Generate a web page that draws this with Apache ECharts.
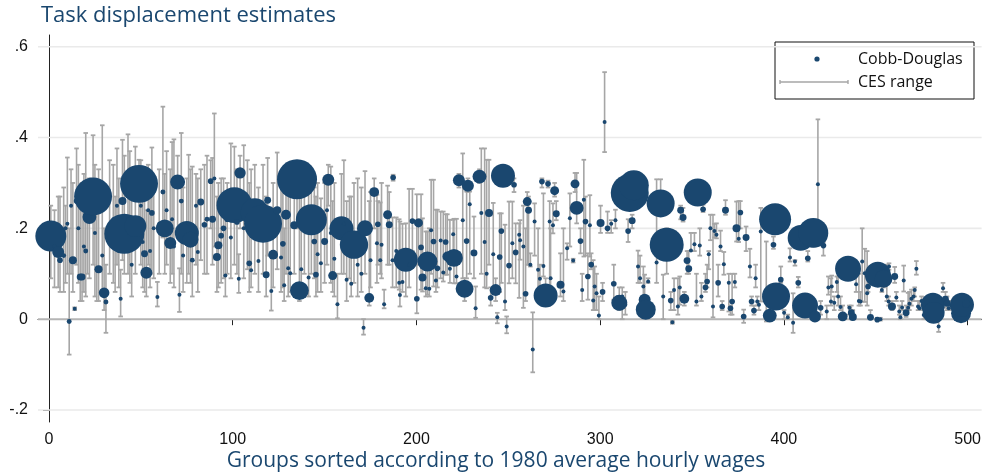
<!DOCTYPE html>
<html>
<head>
<meta charset="utf-8">
<script src="https://cdn.jsdelivr.net/npm/echarts@6/dist/echarts.min.js"></script>
<style>
  html, body { margin: 0; background: #fff; }
  #chart { width: 984px; height: 474px; }
</style>
</head>
<body>
<div id="chart"></div>
<script>
// group rank (sorted by 1980 average hourly wage)
const groupRank = [
  1, 3, 5, 6, 8, 9, 10, 11, 12, 13,
  14, 15, 16, 17, 18, 19, 20, 21, 22, 24,
  25, 26, 27, 29, 30, 31, 33, 35, 36, 37,
  38, 39, 40, 41, 43, 44, 45, 47, 49, 50,
  51, 52, 53, 54, 55, 56, 57, 59, 60, 62,
  63, 64, 66, 67, 68, 70, 71, 72, 73, 75,
  76, 77, 78, 80, 81, 82.6, 84.6, 86, 88, 89,
  90, 91.4, 92.2, 93.7, 95, 96, 97, 99, 100.9, 102.3,
  103.3, 104, 106, 108, 109, 110, 112, 114, 116.5, 118.2,
  119, 121, 122, 124.2, 126.3, 127.3, 128, 129, 130.2, 131.3,
  133.5, 135, 136.3, 137.3, 139, 141.3, 142.8, 144.4, 145.3, 146.2,
  148, 150, 151.3, 152, 153.4, 154.4, 155.3, 157, 159.2, 160.5,
  162, 163.5, 164.5, 166, 168, 170, 171.2, 172, 174.3, 175,
  177, 178.5, 179, 180.3, 181, 182.4, 184.3, 185.2, 187.3, 187,
  189, 190.6, 191, 192.4, 194.2, 196, 197.8, 200.2, 201.1, 202.5,
  203.3, 205.1, 206, 207, 208, 209.3, 210.6, 211.4, 213.2, 214.6,
  215.9, 216.8, 218.2, 220, 220.4, 221.8, 223.1, 225.2, 226.2, 227.3,
  228, 229, 231.3, 232.2, 234.3, 235.3, 237.1, 238.2, 239.5, 240.4,
  241.8, 243.1, 244, 245.3, 246.2, 247.1, 248.2, 249.1, 250.4, 252.2,
  253.1, 254, 255.9, 256.4, 258.2, 259.4, 260.3, 261, 262, 263.3,
  264.3, 266.2, 267.2, 268.3, 269.1, 270.3, 271.6, 272.5, 273, 274.3,
  275.2, 276.1, 278.4, 280, 282, 283.5, 285.3, 286.3, 287.2, 289.3,
  290.2, 291.1, 292, 293.3, 294.4, 295.1, 296.2, 297, 298, 299.3,
  300.2, 301.3, 302.4, 304, 306, 307.4, 308.3, 310.4, 312, 313.7,
  315.2, 316.1, 317.4, 318.3, 320.6, 321.7, 323.5, 324.2, 324.8, 326.1,
  330.7, 332.9, 334.3, 336.2, 338.4, 339.3, 340.2, 342.3, 343.8, 343.3,
  345.1, 345.8, 347.3, 348.2, 349.4, 351.3, 352.4, 353.1, 354.2, 355.1,
  356, 357.3, 358.2, 359.1, 360, 361.4, 362.2, 363.3, 364.2, 365.5,
  366.4, 367.3, 368.2, 370, 370.9, 371.8, 373.3, 374.2, 375.4, 376.3,
  378.1, 379.4, 381.5, 382.4, 383.7, 384.6, 385.5, 386.4, 387.4, 390.4,
  392.3, 394.3, 395.2, 395.7, 398.3, 400.1, 402.1, 403.3, 405, 406,
  407.8, 409.1, 411.5, 413, 416, 416.9, 418.5, 420, 421.5, 423.3,
  424.2, 425.6, 426, 427.4, 428.8, 429.5, 430.8, 432, 434.9, 435.6,
  436.7, 437.5, 439.3, 440.8, 441.7, 442.6, 444, 445.3, 445.8, 447.1,
  448, 449, 450.8, 451.1, 452.5, 453.3, 454.2, 456, 457.2, 457,
  458.8, 460.3, 461.2, 462.8, 463.4, 464.3, 465.2, 466.5, 467.6, 468.3,
  469.4, 470.6, 471.2, 472.1, 473, 473.8, 474.9, 476.1, 481.1, 481.5,
  484.2, 486.6, 487.9, 488.8, 489.7, 491, 493, 496.4, 496.9, 499.2
];

// Cobb-Douglas estimate
const cobbDouglas = [
  .183, .16, .148, .13, .14, .2, .21, -.005, .25, .13,
  .023, .26, .2, .093, .093, .16, .15, .245, .225, .27,
  .19, .11, .11, .14, .058, .038, .2, .22, .16, .25,
  .15, .045, .26, .188, .22, .2, .12, .205, .298, .25,
  .17, .144, .102, .24, .15, .234, .2, .049, .21, .28,
  .2, .24, .168, .22, .16, .302, .054, .26, .14, .19,
  .21, .175, .13, .25, .148, .258, .208, .22, .304, .22,
  .31, .137, .163, .184, .2, .096, .22, .18, .251, .214,
  .089, .322, .2, .24, .123, .108, .235, .128, .21, .098,
  .262, .062, .142, .24, .136, .166, .075, .23, .112, .101,
  .207, .308, .063, .11, .2, .092, .219, .171, .098, .143,
  .123, .171, .24, .307, .19, .096, .133, .033, .2, .21,
  .087, .18, .078, .164, .12, .1, -.019, .2, .047, .13,
  .28, .167, .209, .13, .164, .033, .23, .208, .312, .13,
  .15, .08, .053, .082, .131, .12, .216, .045, .212, .158,
  .092, .068, .127, .067, .196, .171, .085, .112, .173, .103,
  .17, .138, .111, .187, .135, .094, .306, .218, .067, .172,
  .294, .253, .146, .024, .314, .234, .17, .1, .234, .047,
  .143, .064, .004, .137, .194, .316, .039, -.016, .118, .167,
  .296, .147, .186, .174, .16, .056, .259, .24, .12, -.067,
  .215, .109, .089, .303, .117, .052, .298, .215, .09, .207,
  .283, .232, .076, .061, .156, .222, .129, .298, .245, .172,
  .064, .263, .215, .094, .207, .12, .041, .072, .057, .008,
  .212, .06, .434, .2, .21, .078, .218, .036, .05, .032,
  .194, .278, .217, .295, .116, .09, .072, .043, .021, .083,
  .125, .255, .05, .164, .041, -.007, .064, .028, .24, .07,
  .224, .045, .129, .111, .151, .165, .039, .279, .162, .05,
  .242, .07, .083, .143, .2, .028, .194, .186, .08, .16,
  .028, .121, .24, .08, .024, .039, .082, .2, .177, .235,
  .006, .18, .116, .039, .019, .09, .039, .032, .193, .05,
  .008, .164, .22, .05, .087, .014, .004, .136, -.008, .127,
  .08, .179, .03, .134, .19, .006, .297, .025, .162, .017,
  .07, .039, .072, .036, .082, .05, .027, .006, .111, .025,
  .014, .005, .077, .04, .039, .127, .101, .057, .072, .004,
  .087, .092, -.001, .098, 0, .064, .089, .05, .116, .039,
  .028, .094, .048, .017, .004, .026, .085, .014, .025, .034,
  .045, .05, .064, .111, .028, .024, .04, .009, .032, .014,
  -.016, .068, .044, .035, .024, .03, .02, .013, .032, .034
];

// CES range, lower end
const cesLow = [
  .09, .07, .07, .06, .06, .08, .1, -.078, .1, .06,
  .02, .12, .08, .04, .04, .06, .05, .1, .09, .12,
  .05, .04, .04, .06, .02, -.03, .1, .08, .06, .12,
  .07, .006, .13, .1, .1, .08, .05, .1, .18, .12,
  .07, .06, .05, .12, .07, .1, .09, .028, .1, .18,
  .1, .12, .08, .1, .07, .2, .016, .1, .06, .08,
  .1, .08, .05, .12, .06, .13, .1, .1, .2, .12,
  .16, .06, .07, .08, .09, .05, .1, .09, .12, .1,
  .058, .2, .09, .11, .06, .07, .1, .06, .1, .05,
  .14, .019, .07, .11, .06, .07, .04, .1, .05, .06,
  .1, .2, .04, .05, .1, .05, .1, .09, .05, .06,
  .06, .08, .12, .25, .08, .06, .05, .002, .1, .1,
  .04, .09, .05, .08, .05, .06, -.034, .1, .03, .07,
  .2, .08, .12, .1, .09, .024, .12, .12, .305, .07,
  .07, .065, .028, .06, .05, .07, .15, .013, .12, .065,
  .061, .05, .054, .05, .1, .072, .06, .07, .09, .083,
  .098, .098, .08, .12, .079, .079, .29, .09, .04, .09,
  .28, .1, .09, .003, .3, .1, .07, .068, .12, .03,
  .058, .04, -.009, .06, .08, .3, .02, -.031, .079, .09,
  .28, .079, .047, .131, .025, .04, .12, .12, .116, -.117,
  .14, .057, .072, .29, .094, .03, .29, .072, .07, .189,
  .27, .218, .05, .04, .131, .16, .125, .28, .211, .145,
  .04, .138, .14, .043, .138, .11, .02, .02, .02, 0,
  .19, .04, .368, .19, .19, .043, .2, .02, 0, .01,
  .17, .25, .2, .27, .08, .08, .051, .03, .01, .08,
  .08, .23, 0, .1, .02, -.01, .02, .01, .22, .032,
  .215, .03, .1, .1, .15, .15, .03, .26, .14, .04,
  .236, .06, .07, .11, .174, .004, .18, .178, .05, .15,
  .02, .098, .23, .017, .01, .01, .07, .171, .17, .2,
  -.008, .15, .092, .03, .01, .07, .03, .02, .039, -.005,
  0, .155, .2, .03, .08, 0, 0, .127, -.03, .118,
  .07, .16, .01, .127, .16, 0, .17, .01, .14, 0,
  .054, .03, .06, .02, .06, .03, .02, 0, .1, .01,
  0, 0, .06, .03, .03, .039, .038, .03, .06, 0,
  .08, .08, -.003, .08, -.003, .06, .07, .04, .109, .03,
  .02, .08, .04, .01, 0, .02, .061, .005, .02, .02,
  .03, .04, .05, .098, .02, .02, .03, 0, .02, 0,
  -.028, .06, .025, .02, .02, .02, .01, 0, .02, .03
];

// CES range, upper end
const cesHigh = [
  .25, .24, .27, .27, .29, .25, .356, .2, .33, .3,
  .026, .376, .34, .27, .3, .32, .41, .3, .31, .405,
  .34, .28, .33, .427, .2, .12, .35, .34, .27, .376,
  .31, .109, .395, .36, .407, .37, .27, .38, .351, .35,
  .33, .32, .24, .34, .3, .378, .28, .082, .33, .468,
  .32, .37, .33, .39, .396, .36, .112, .41, .29, .31,
  .362, .33, .336, .32, .31, .33, .34, .36, .35, .355,
  .453, .27, .3, .31, .31, .25, .3, .387, .38, .33,
  .143, .36, .383, .35, .3, .33, .34, .29, .34, .27,
  .355, .143, .3, .367, .32, .29, .2, .32, .33, .28,
  .31, .33, .28, .3, .34, .28, .3, .29, .27, .3,
  .266, .3, .3, .34, .336, .26, .3, .1, .32, .35,
  .26, .27, .27, .3, .31, .29, 0, .326, .26, .28,
  .31, .274, .26, .257, .3, .065, .294, .28, .318, .224,
  .224, .22, .215, .21, .211, .287, .287, .275, .22, .275,
  .222, .193, .193, .2, .307, .307, .241, .241, .237, .237,
  .231, .231, .219, .219, .221, .221, .32, .365, .09, .281,
  .31, .281, .226, .072, .33, .376, .376, .351, .351, .07,
  .256, .09, .014, .233, .233, .33, .208, .006, .259, .259,
  .31, .211, .211, .218, .25, .2, .28, .27, .145, .015,
  .255, .2, .12, .31, .277, .09, .305, .26, .2, .255,
  .3, .26, .145, .2, .167, .277, .133, .322, .322, .2,
  .1, .351, .27, .145, .273, .145, .13, .116, .1, .05,
  .25, .08, .544, .237, .218, .12, .241, .07, .07, .06,
  .22, .31, .23, .31, .151, .14, .116, .098, .04, .09,
  .308, .308, .098, .2, .06, -.004, .09, .09, .25, .094,
  .245, .06, .15, .15, .19, .19, .1, .3, .2, .08,
  .252, .1, .12, .15, .23, .23, .21, .211, .12, .195,
  .04, .148, .262, .1, .03, .1, .1, .259, .26, .26,
  .021, .204, .155, .05, .03, .12, .05, .04, .245, .171,
  .03, .182, .25, .07, .116, .02, .01, .156, .057, .13,
  .093, .2, .05, .15, .2, .02, .44, .04, .17, .03,
  .094, .09, .096, .05, .094, .094, .05, .03, .13, .03,
  .03, .02, .1, .1, .06, .2, .155, .15, .09, .02,
  .1, .1, .003, .12, .003, .11, .1, .12, .123, .05,
  .04, .115, .06, .03, .01, .04, .118, .03, .058, .06,
  .065, .065, .07, .128, .04, .04, .05, .02, .045, .03,
  .017, .08, .06, .05, .04, .04, .04, .03, .045, .04
];

// group weight (marker area)
const groupWeight = [
  60, 1, 9, 2, 1.5, 1, 1, 1.5, 1, 4,
  1, 2, 1, 3, 3, 1, 1.5, 2, 12, 90,
  1, 1, 4, 1, 7, 1.5, 1, 1, 1, 1,
  1, 1, 4, 100, 1, 2, 1, 30, 90, 1,
  1, 3, 9, 1, 1, 2, 1, 1, 1, 1.5,
  20, 1, 9, 1, 1, 14, 1, 1.5, 1, 36,
  1, 16, 1.5, 1, 1, 3, 2, 1.5, 2, 3,
  1, 4, 4, 2, 2, 1, 2, 1, 80, 2,
  1, 8, 1, 1, 2, 1, 50, 1, 90, 3,
  3, 1, 6, 4, 1, 2, 1, 6, 1, 1,
  4, 100, 22, 1, 1, 1, 60, 2, 2, 1,
  1, 3, 1, 9, 1, 5, 1, 1, 36, 1,
  1, 1, 1, 50, 1, 1, 1, 16, 6, 1,
  6, 1, 2, 1, 1, 1, 5, 3, 2, 1,
  1, 1, 1, 1, 36, 1, 2, 2, 5, 2,
  4, 1, 25, 1, 1, 2, 1, 2, 1, 1,
  2, 6, 1, 1, 20, 1, 9, 1, 20, 2,
  9, 1, 3, 1, 12, 1, 1, 1, 4, 2,
  1, 9, 1, 2, 2, 36, 1, 1, 2, 1,
  2, 2, 1, 1, 1, 2, 5, 3, 1, 1,
  1, 1, 1, 2, 1, 36, 2, 1, 1, 1,
  5, 3, 4, 1, 1, 1, 1, 5, 12, 2,
  1, 1, 2, 2, 1, 2, 1, 1, 1, 1,
  4, 2, 1, 2, 1, 2, 1, 16, 1, 1,
  2, 90, 3, 56, 1, 1, 1, 9, 25, 1,
  1, 49, 1, 72, 2, 1, 1, 1, 3, 1,
  3, 6, 3, 3, 1, 1, 1, 49, 1, 1,
  2, 2, 2, 1, 1, 1, 1, 1, 2, 1,
  2, 1, 3, 1, 2, 2, 1, 4, 1, 2,
  2, 3, 1, 2, 2, 1, 1, 1, 1, 1,
  12, 2, 64, 49, 2, 1, 1, 1, 1, 1,
  2, 42, 42, 2, 56, 9, 1, 2, 2, 1,
  1, 1, 1, 1, 1, 1, 1, 6, 42, 1,
  3, 4, 1, 1, 1, 1, 1, 1, 2, 3,
  1, 1, 2, 42, 1, 1, 20, 1, 1, 1,
  4, 3, 1, 1, 1, 1, 1, 3, 1, 1,
  1, 1, 1, 1, 1, 1, 1, 1, 36, 30,
  1, 1, 3, 3, 1, 1, 1, 25, 36, 4
];

const xTicks = [0, 100, 200, 300, 400, 500];
const yTicks = [-0.2, 0, 0.2, 0.4, 0.6];

const navy = '#1a476f';
const barGray = '#a6a6a6';

const chart = echarts.init(document.getElementById('chart'));

// horizontal reference lines at the y ticks
function renderGridLine(params, api) {
  const v = api.value(1);
  const y = api.coord([0, v])[1];
  const cs = params.coordSys;
  return {
    type: 'line',
    shape: { x1: cs.x, y1: y, x2: cs.x + cs.width, y2: y },
    style: { stroke: v === 0 ? '#b5b5b5' : '#eaeaea', lineWidth: v === 0 ? 2 : 1.6 },
    silent: true
  };
}

// capped vertical bar for the CES range
function renderRange(params, api) {
  const x = api.value(0);
  const top = api.coord([x, api.value(2)]);
  const bot = api.coord([x, api.value(1)]);
  const cap = 2.3;
  const stem = { stroke: barGray, lineWidth: 1.6 };
  const capStyle = { stroke: barGray, lineWidth: 1.8 };
  return {
    type: 'group',
    children: [
      { type: 'line', shape: { x1: top[0], y1: top[1], x2: bot[0], y2: bot[1] }, style: stem },
      { type: 'line', shape: { x1: top[0] - cap, y1: top[1], x2: top[0] + cap, y2: top[1] }, style: capStyle },
      { type: 'line', shape: { x1: bot[0] - cap, y1: bot[1], x2: bot[0] + cap, y2: bot[1] }, style: capStyle }
    ]
  };
}

chart.setOption({
  animation: false,
  backgroundColor: '#fff',
  title: {
    text: 'Task displacement estimates',
    left: 41,
    top: 5,
    padding: 0,
    textStyle: { fontFamily: 'Open Sans', fontSize: 22, fontWeight: 'normal', color: navy }
  },
  grid: { left: 38, top: 35, width: 945, height: 387 },
  xAxis: {
    type: 'value',
    min: -5.98,
    max: 507.6,
    splitLine: { show: false },
    axisLine: { lineStyle: { color: '#222', width: 1 } },
    axisTick: { customValues: xTicks, length: 6, lineStyle: { color: '#222' } },
    axisLabel: { customValues: xTicks, margin: 10, fontFamily: 'Liberation Sans', fontSize: 16, color: '#111' }
  },
  yAxis: {
    type: 'value',
    min: -0.2264,
    max: 0.6258,
    splitLine: { show: false },
    axisLine: { show: true, lineStyle: { color: '#222', width: 1 } },
    axisTick: { show: true, customValues: yTicks, length: 6, lineStyle: { color: '#222' } },
    axisLabel: {
      customValues: yTicks,
      margin: 10,
      fontFamily: 'Liberation Sans',
      fontSize: 16,
      color: '#111',
      formatter: v => (Math.abs(v) < 1e-9 ? '0' : String(+v.toFixed(1)).replace('0.', '.'))
    }
  },
  series: [
    {
      type: 'custom',
      z: 1,
      silent: true,
      renderItem: renderGridLine,
      encode: { x: 0, y: 1 },
      data: yTicks.map(v => [0, v])
    },
    {
      name: 'CES range',
      type: 'custom',
      z: 2,
      renderItem: renderRange,
      encode: { x: 0, y: [1, 2] },
      data: groupRank.map((x, i) => [x, cesLow[i], cesHigh[i]])
    },
    {
      name: 'Cobb-Douglas',
      type: 'scatter',
      z: 3,
      symbol: 'circle',
      symbolSize: v => Math.max(3.6, 4 * Math.sqrt(v[2])),
      itemStyle: { color: navy, opacity: 1 },
      data: groupRank.map((x, i) => [x, cobbDouglas[i], groupWeight[i]])
    }
  ],
  graphic: [
    {
      type: 'text',
      x: 496,
      y: 461,
      style: {
        text: 'Groups sorted according to 1980 average hourly wages',
        font: '21px "Open Sans"',
        fill: navy,
        textAlign: 'center',
        textVerticalAlign: 'middle'
      }
    },
    {
      type: 'group',
      z: 100,
      children: [
        { type: 'rect', shape: { x: 775, y: 42, width: 199, height: 57 }, style: { fill: '#fff', stroke: '#111', lineWidth: 1 } },
        { type: 'circle', shape: { cx: 817, cy: 59, r: 2.6 }, style: { fill: navy } },
        { type: 'text', x: 858, y: 59, style: { text: 'Cobb-Douglas', font: '16px "Open Sans"', fill: '#111', textVerticalAlign: 'middle' } },
        { type: 'line', shape: { x1: 780, y1: 82, x2: 848, y2: 82 }, style: { stroke: barGray, lineWidth: 1.4 } },
        { type: 'line', shape: { x1: 780, y1: 80, x2: 780, y2: 84 }, style: { stroke: barGray, lineWidth: 1.4 } },
        { type: 'line', shape: { x1: 848, y1: 80, x2: 848, y2: 84 }, style: { stroke: barGray, lineWidth: 1.4 } },
        { type: 'text', x: 858, y: 82, style: { text: 'CES range', font: '16px "Open Sans"', fill: '#111', textVerticalAlign: 'middle' } }
      ]
    }
  ]
});
</script>
</body>
</html>
